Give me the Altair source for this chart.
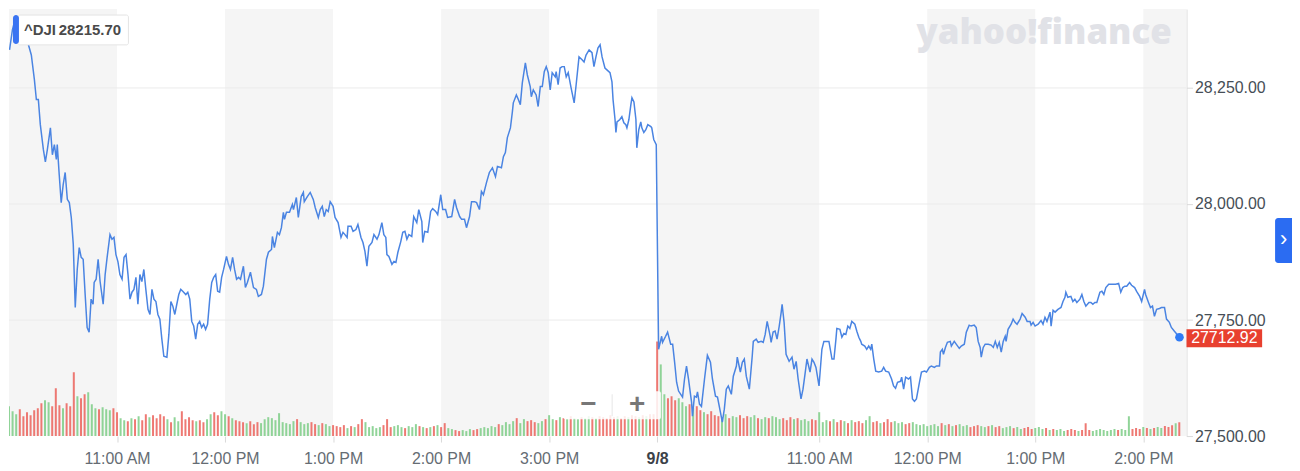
import bisect
import altair as alt
import pandas as pd

# ---------------- data ----------------
DAY2_OFFSET = 360  # 9:30 on 9/8 sits right after 4:00 PM of the first session (minutes)

# first session: (minutes after 10:00 AM, price)
day1_ticks = [
    (0.3, 28332), (1.9, 28375), (3.6, 28401), (6.9, 28392), (9.7, 28364), (10.8, 28343), (12.4, 28321),
    (14.1, 28268), (15.2, 28225), (16.3, 28225), (17.4, 28171), (19.1, 28117), (20.2, 28091), (21.3, 28117),
    (23.0, 28164), (24.1, 28106), (25.2, 28128), (26.3, 28096), (26.8, 28128), (27.9, 28063), (29.0, 28003),
    (30.1, 28042), (31.2, 28068), (32.4, 28010), (33.5, 28003), (34.6, 27971), (35.7, 27913), (36.8, 27777),
    (37.9, 27859), (39.0, 27906), (40.1, 27885), (41.2, 27881), (42.3, 27805), (43.4, 27734), (44.5, 27724),
    (45.6, 27795), (46.7, 27784), (47.3, 27831), (48.4, 27838), (49.5, 27881), (50.6, 27833), (52.3, 27784),
    (53.4, 27848), (54.5, 27885), (56.1, 27934), (57.2, 27924), (58.3, 27928), (59.4, 27891), (60.5, 27876),
    (61.6, 27848), (62.8, 27838), (63.9, 27885), (65.0, 27891), (66.1, 27848), (67.2, 27795), (68.3, 27810),
    (69.4, 27816), (70.5, 27842), (71.6, 27784), (72.7, 27848), (73.8, 27833), (74.9, 27859), (76.0, 27816),
    (77.2, 27773), (78.3, 27762), (79.4, 27816), (80.5, 27795), (81.6, 27790), (82.7, 27762), (83.8, 27752),
    (84.9, 27709), (86.0, 27672), (87.7, 27670), (88.8, 27719), (89.9, 27790), (91.0, 27780), (92.1, 27762),
    (93.2, 27784), (94.3, 27805), (95.4, 27816), (96.5, 27812), (98.2, 27805), (99.3, 27810), (100.4, 27795),
    (101.5, 27747), (102.6, 27737), (103.7, 27709), (104.8, 27741), (105.9, 27747), (107.0, 27734),
    (108.1, 27741), (109.2, 27730), (110.3, 27741), (111.5, 27795), (112.6, 27831), (113.7, 27842),
    (114.8, 27848), (115.9, 27812), (117.0, 27810), (118.1, 27842), (119.2, 27859), (120.8, 27887),
    (121.9, 27870), (123.0, 27859), (124.2, 27885), (125.3, 27859), (126.4, 27838), (127.5, 27842),
    (128.6, 27838), (130.2, 27866), (131.3, 27820), (132.4, 27831), (134.1, 27853), (135.8, 27820),
    (137.4, 27816), (138.5, 27801), (140.2, 27805), (141.3, 27823), (143.0, 27881), (144.1, 27896),
    (145.8, 27902), (146.3, 27930), (147.4, 27906), (149.1, 27939), (150.2, 27934), (151.3, 27949),
    (152.4, 27982), (153.0, 27967), (154.1, 27982), (155.8, 27982), (157.4, 27999), (158.0, 27988),
    (159.6, 28014), (160.7, 27971), (162.3, 28016), (163.5, 28025), (164.0, 28005), (165.7, 28016),
    (167.3, 28025), (169.0, 28010), (170.1, 27992), (171.8, 27971), (172.9, 27988), (174.0, 27995),
    (175.1, 27973), (176.2, 27988), (177.3, 27984), (178.4, 28005), (180.0, 27995), (181.1, 27971),
    (182.8, 27960), (184.4, 27928), (185.5, 27939), (186.6, 27934), (187.8, 27928), (188.3, 27952),
    (190.0, 27952), (191.1, 27941), (192.7, 27945), (193.8, 27956), (195.5, 27928), (196.6, 27917),
    (197.7, 27898), (198.8, 27866), (199.9, 27909), (201.6, 27917), (202.7, 27934), (204.4, 27924),
    (205.5, 27934), (207.1, 27960), (208.2, 27934), (209.3, 27928), (209.9, 27891), (211.0, 27887),
    (212.7, 27870), (213.8, 27876), (214.9, 27874), (216.0, 27896), (217.6, 27919), (218.7, 27939),
    (219.9, 27941), (221.0, 27924), (222.1, 27934), (223.7, 27930), (224.8, 27973), (226.5, 27960),
    (227.6, 27988), (229.3, 27962), (229.8, 27917), (230.9, 27941), (232.6, 27939), (234.2, 27984),
    (235.3, 27990), (237.0, 27984), (238.1, 27977), (239.8, 28020), (240.9, 27988), (242.5, 27988),
    (243.6, 27971), (245.9, 27973), (247.5, 28010), (248.6, 27992), (250.3, 27973), (251.4, 27967),
    (253.0, 27967), (254.1, 27949), (255.8, 27973), (256.9, 28005), (258.6, 28005), (259.7, 28003),
    (261.3, 27988), (262.4, 28027), (263.5, 28020), (265.2, 28046), (266.8, 28068), (268.5, 28078),
    (270.2, 28059), (271.3, 28081), (273.5, 28078), (274.6, 28102), (275.7, 28111), (276.8, 28143),
    (278.5, 28164), (279.6, 28199), (280.1, 28218), (281.8, 28235), (282.9, 28225), (284.0, 28214),
    (285.1, 28261), (286.8, 28304), (287.9, 28278), (289.5, 28253), (290.1, 28231), (291.2, 28246),
    (292.8, 28235), (293.9, 28210), (295.1, 28253), (296.2, 28253), (297.3, 28285), (298.4, 28296),
    (299.5, 28283), (300.6, 28246), (301.7, 28283), (303.4, 28274), (303.9, 28285), (305.0, 28257),
    (306.1, 28293), (307.2, 28296), (308.4, 28296), (309.5, 28274), (310.6, 28283), (312.2, 28250),
    (313.9, 28218), (315.0, 28257), (316.6, 28317), (318.3, 28311), (319.4, 28306), (320.5, 28321),
    (322.2, 28332), (323.8, 28326), (324.9, 28296), (326.0, 28317), (327.1, 28336), (328.3, 28343),
    (329.4, 28317), (331.0, 28293), (332.1, 28289), (333.8, 28283), (334.9, 28263), (335.5, 28225),
    (336.6, 28182), (337.1, 28154), (337.7, 28177), (339.3, 28182), (340.4, 28188), (341.5, 28175),
    (342.6, 28171), (343.2, 28164), (344.3, 28182), (345.4, 28214), (346.0, 28229), (347.1, 28220),
    (348.2, 28182), (348.7, 28121), (349.8, 28160), (350.9, 28177), (351.5, 28164), (352.6, 28154),
    (353.7, 28160), (354.8, 28171), (356.5, 28167), (357.0, 28164), (358.1, 28139), (359.5, 28128),
]

# second session (9/8): (minutes after 9:30 AM, price)
day2_ticks = [
    (0.8, 27687), (2.5, 27715), (3.0, 27702), (4.7, 27715), (5.8, 27724), (7.5, 27698), (8.6, 27698),
    (9.7, 27659), (10.8, 27616), (11.9, 27597), (14.1, 27584), (15.2, 27623), (16.3, 27651), (17.4, 27623),
    (19.1, 27573), (19.6, 27543), (20.7, 27586), (21.8, 27584), (22.4, 27595), (23.5, 27569), (24.6, 27564),
    (26.3, 27623), (27.9, 27674), (29.6, 27659), (30.7, 27623), (32.4, 27586), (33.5, 27584), (35.1, 27552),
    (36.2, 27530), (37.3, 27558), (38.4, 27601), (39.5, 27608), (41.2, 27590), (42.3, 27629), (44.0, 27651),
    (44.5, 27670), (46.2, 27638), (47.3, 27659), (48.4, 27666), (49.5, 27629), (51.2, 27601), (52.8, 27672),
    (53.4, 27704), (55.0, 27709), (56.1, 27702), (57.8, 27704), (58.9, 27702), (60.0, 27719), (61.1, 27747),
    (62.8, 27715), (63.3, 27702), (64.4, 27724), (65.5, 27726), (66.6, 27709), (67.8, 27737), (68.9, 27767),
    (69.4, 27784), (70.5, 27745), (71.6, 27676), (73.3, 27661), (74.9, 27670), (76.0, 27644), (77.2, 27661),
    (78.3, 27623), (79.9, 27580), (81.0, 27601), (82.1, 27633), (83.2, 27666), (84.9, 27638), (86.0, 27666),
    (87.1, 27659), (88.2, 27648), (89.9, 27608), (91.5, 27687), (92.6, 27704), (94.3, 27704), (95.4, 27704),
    (97.1, 27666), (98.2, 27666), (99.3, 27709), (99.8, 27732), (101.5, 27730), (102.6, 27713),
    (103.7, 27721), (104.8, 27719), (105.9, 27737), (107.0, 27732), (108.1, 27747), (109.8, 27741),
    (110.9, 27726), (112.0, 27713), (113.1, 27704), (113.6, 27698), (115.3, 27694), (116.4, 27687),
    (117.5, 27694), (118.6, 27687), (119.2, 27698), (120.3, 27666), (121.4, 27640), (123.0, 27638),
    (124.7, 27640), (125.8, 27648), (126.9, 27640), (128.6, 27638), (130.2, 27623), (131.3, 27608),
    (132.4, 27603), (133.5, 27616), (135.2, 27618), (135.8, 27627), (136.9, 27601), (138.0, 27627),
    (139.6, 27623), (140.7, 27627), (141.8, 27580), (142.9, 27575), (144.0, 27580), (145.7, 27616),
    (146.8, 27638), (148.5, 27640), (149.6, 27638), (151.2, 27648), (152.3, 27651), (154.0, 27648),
    (155.1, 27651), (156.8, 27651), (157.3, 27681), (158.4, 27687), (159.0, 27676), (160.1, 27691),
    (161.2, 27702), (162.8, 27704), (163.4, 27694), (165.0, 27704), (166.1, 27698), (167.8, 27689),
    (168.9, 27694), (170.6, 27698), (171.7, 27724), (173.3, 27739), (174.4, 27737), (176.1, 27739),
    (177.2, 27734), (178.3, 27704), (179.4, 27691), (180.0, 27670), (181.1, 27691), (182.2, 27698),
    (183.9, 27698), (185.5, 27696), (186.7, 27691), (187.8, 27704), (188.9, 27691), (190.0, 27702),
    (191.1, 27681), (192.2, 27704), (193.3, 27715), (193.8, 27704), (194.9, 27730), (196.6, 27741),
    (197.7, 27752), (198.8, 27745), (199.9, 27741), (201.6, 27752), (202.7, 27764), (204.4, 27756),
    (205.5, 27747), (207.1, 27747), (207.7, 27739), (208.8, 27745), (209.9, 27737), (211.6, 27741),
    (213.2, 27749), (214.3, 27741), (215.4, 27756), (216.5, 27747), (218.2, 27767), (218.8, 27737),
    (219.9, 27771), (221.0, 27767), (222.6, 27773), (224.3, 27777), (225.4, 27790), (226.5, 27799),
    (227.0, 27810), (228.1, 27799), (229.8, 27801), (230.9, 27790), (232.0, 27795), (233.1, 27788),
    (234.8, 27795), (235.9, 27805), (237.0, 27790), (238.1, 27780), (239.8, 27788), (240.9, 27788),
    (242.0, 27784), (243.1, 27788), (244.2, 27788), (245.9, 27810), (247.0, 27812), (248.1, 27805),
    (249.2, 27820), (250.8, 27827), (251.9, 27827), (253.6, 27827), (254.7, 27827), (256.3, 27829),
    (257.5, 27810), (258.6, 27820), (259.7, 27823), (260.8, 27823), (262.4, 27831), (263.5, 27825),
    (265.2, 27820), (266.3, 27812), (268.0, 27801), (269.1, 27790), (270.7, 27816), (271.3, 27805),
    (272.9, 27788), (274.0, 27777), (275.1, 27780), (276.2, 27758), (277.4, 27773), (279.0, 27775),
    (280.1, 27777), (281.8, 27777), (282.9, 27752), (284.5, 27745), (285.6, 27734), (287.3, 27726),
    (290.1, 27712.92),
]

# volume per 2-minute bar (thousand shares); first session from 10:00, second from 9:30
day1_volume = [
    300, 250, 220, 270, 200, 240, 210, 260, 280, 330,
    360, 340, 300, 480, 310, 280, 330, 300, 640, 400,
    380, 420, 440, 320, 280, 270, 290, 270, 260, 280,
    240, 180, 160, 150, 180, 170, 200, 160, 220, 190,
    210, 180, 220, 200, 170, 140, 190, 150, 250, 170,
    190, 160, 150, 160, 140, 170, 220, 240, 210, 250,
    220, 200, 180, 160, 150, 140, 130, 150, 120, 140,
    130, 170, 190, 180, 160, 230, 140, 130, 120, 150,
    170, 140, 120, 130, 140, 120, 110, 130, 120, 100,
    110, 100, 90, 110, 80, 100, 90, 120, 170, 140,
    90, 100, 80, 90, 110, 170, 90, 100, 110, 90,
    80, 100, 90, 120, 100, 90, 80, 90, 100, 110,
    90, 130, 80, 70, 60, 50, 60, 50, 70, 60,
    70, 80, 90, 80, 100, 90, 120, 110, 140, 120,
    150, 180, 130, 170, 150, 160, 140, 130, 150, 170,
    210, 170, 160, 190, 180, 170, 200, 180, 170, 190,
    180, 200, 190, 180, 200, 190, 180, 210, 190, 200,
    180, 200, 190, 210, 200, 190, 210, 200, 220, 220,
]
day2_volume = [
    950, 720, 420, 380, 400, 360, 380, 340, 300, 320,
    280, 300, 260, 240, 220, 250, 210, 200, 190, 220,
    180, 200, 190, 210, 180, 200, 190, 210, 180, 170,
    190, 180, 200, 190, 170, 180, 160, 190, 170, 180,
    160, 170, 150, 170, 160, 240, 140, 160, 150, 170,
    140, 160, 150, 130, 160, 140, 150, 130, 160, 200,
    140, 150, 130, 140, 170, 140, 150, 130, 140, 120,
    130, 140, 120, 110, 120, 100, 110, 120, 100, 130,
    110, 120, 100, 110, 120, 100, 110, 90, 100, 110,
    100, 90, 100, 110, 90, 100, 80, 90, 100, 80,
    90, 70, 80, 90, 70, 80, 90, 70, 80, 60,
    70, 60, 70, 50, 60, 70, 60, 50, 60, 130,
    60, 50, 60, 70, 60, 50, 60, 70, 60, 70,
    60, 200, 70, 80, 70, 90, 80, 70, 80, 90,
    80, 100, 90, 110, 130, 140,
]

tick_minutes = [60, 120, 180, 240, 300, 360, 450, 510, 570, 630]
tick_labels = ["11:00 AM", "12:00 PM", "1:00 PM", "2:00 PM", "3:00 PM", "9/8",
               "11:00 AM", "12:00 PM", "1:00 PM", "2:00 PM"]
price_ticks = [27500, 27750, 28000, 28250]
grid_prices = [27750, 28000, 28250]
band_starts = [0, 120, 240, 360, 510, 630]
band_ends = [60, 180, 300, 450, 570, 654]
x_domain = [0, 654]
price_domain = [27500, 28420]
volume_domain = [0, 4290]
tag_symbol = "^DJI"
tag_value = "28215.70"
watermark = "yahoo!finance"

# ---------------- tables ----------------
t_all = [m for m, _ in day1_ticks] + [DAY2_OFFSET + m for m, _ in day2_ticks]
p_all = [p for _, p in day1_ticks] + [p for _, p in day2_ticks]
price_df = pd.DataFrame({"t": t_all, "p": p_all})

vol_t = [2 * i for i in range(len(day1_volume))] + [DAY2_OFFSET + 2 * j for j in range(len(day2_volume))]
vol_v = day1_volume + day2_volume


def price_at(t):
    k = bisect.bisect_right(t_all, t) - 1
    return p_all[max(k, 0)]


vol_dir = ["up" if price_at(t + 2) >= price_at(t) else "down" for t in vol_t]
vol_df = pd.DataFrame({"t": vol_t, "v": vol_v, "d": vol_dir})

band_df = pd.DataFrame({"s": band_starts, "e": band_ends})
grid_df = pd.DataFrame({"v": grid_prices})
last_df = pd.DataFrame({"t": [t_all[-1]], "p": [p_all[-1]], "label": [f"{p_all[-1]:.2f}"]})
one = pd.DataFrame({"k": [0]})

label_expr = " : ".join(f"datum.value == {v} ? '{s}'" for v, s in zip(tick_minutes, tick_labels)) + " : ''"

# ---------------- chart ----------------
W, H = 1183, 429
FONT = "Liberation Sans"
xs = alt.Scale(domain=x_domain, nice=False, zero=False, padding=0)
ys = alt.Scale(domain=price_domain, nice=False, zero=False)

x_axis = alt.Axis(
    values=tick_minutes, labelExpr=label_expr, grid=False, domain=False,
    tickSize=6, tickColor="#d9d9d9", labelPadding=9, labelFontSize=16, labelFont=FONT,
    labelColor={"condition": {"test": "datum.value == 360", "value": "#3c4248"}, "value": "#656c73"},
    labelFontWeight={"condition": {"test": "datum.value == 360", "value": "bold"}, "value": "normal"},
    labelOverlap=False, labelFlush=False, title=None,
)
y_axis = alt.Axis(
    orient="right", values=price_ticks, format=",.2f", grid=False, domain=True,
    domainColor="#dadada", tickColor="#dadada", tickSize=6, labelPadding=2, labelFontSize=16,
    labelFont=FONT, labelColor="#464e56", title=None, labelOverlap=False, labelFlush=False,
)

bands = alt.Chart(band_df).mark_rect(color="#f5f5f5").encode(
    x=alt.X("s:Q", scale=xs, axis=x_axis), x2="e:Q"
)
grid = alt.Chart(grid_df).mark_rule(color="#ebebeb", strokeWidth=1).encode(
    y=alt.Y("v:Q", scale=ys, axis=y_axis)
)
volume = alt.Chart(vol_df).mark_bar(size=2, clip=True, opacity=0.9).encode(
    x=alt.X("t:Q", scale=xs),
    y=alt.Y("v:Q", scale=alt.Scale(domain=volume_domain, nice=False), axis=None),
    color=alt.Color("d:N", scale=alt.Scale(domain=["up", "down"], range=["#84cf8d", "#ec6a64"]), legend=None),
)
line = alt.Chart(price_df).mark_line(color="#4a84e2", strokeWidth=1.5, clip=True).encode(
    x=alt.X("t:Q", scale=xs), y=alt.Y("p:Q", scale=ys, axis=None)
)
dot = alt.Chart(last_df).mark_circle(size=75, color="#2f7bf5", opacity=1).encode(
    x=alt.X("t:Q", scale=xs), y=alt.Y("p:Q", scale=ys, axis=None)
)
BADGE = "M-1,-0.24L1,-0.24L1,0.24L-1,0.24Z"
badge = alt.Chart(last_df).mark_point(shape=BADGE, size=76 * 76, filled=True, color="#e8402f",
                                      opacity=1, yOffset=1).encode(
    x=alt.value(1221), y=alt.Y("p:Q", scale=ys, axis=None)
)
badge_text = alt.Chart(last_df).mark_text(color="white", fontSize=16, font=FONT, align="center",
                                          baseline="middle", yOffset=1).encode(
    x=alt.value(1221), y=alt.Y("p:Q", scale=ys, axis=None), text="label:N"
)

wm = alt.Chart(one).mark_text(text=watermark, font="Open Sans", fontSize=35, fontWeight=800,
                              color="#e1e2e7", align="center", baseline="middle").encode(
    x=alt.value(1040), y=alt.value(24)
)

tag_box = alt.Chart(one).mark_rect(color="white", stroke="#e4e4e4", strokeWidth=1, cornerRadius=2).encode(
    x=alt.value(9), x2=alt.value(120), y=alt.value(6), y2=alt.value(36)
)
tag_bar = alt.Chart(one).mark_rect(color="#3a74f2", cornerRadius=3).encode(
    x=alt.value(4), x2=alt.value(10), y=alt.value(6), y2=alt.value(35)
)
tag_sym = alt.Chart(one).mark_text(text=tag_symbol, font=FONT, fontSize=15, fontWeight="bold",
                                   color="#4a4a4a", align="left", baseline="middle").encode(
    x=alt.value(15), y=alt.value(21)
)
tag_val = alt.Chart(one).mark_text(text=tag_value, font=FONT, fontSize=15, fontWeight="bold",
                                   color="#4a4a4a", align="left", baseline="middle").encode(
    x=alt.value(50), y=alt.value(21)
)

zoom_box = alt.Chart(one).mark_rect(color="white", opacity=0.85, cornerRadius=2).encode(
    x=alt.value(557), x2=alt.value(655), y=alt.value(384), y2=alt.value(412)
)
zoom_div = alt.Chart(one).mark_rule(color="#e6e6e6").encode(
    x=alt.value(606), y=alt.value(387), y2=alt.value(409)
)
zoom_minus = alt.Chart(one).mark_text(text="\u2212", font=FONT, fontSize=28, fontWeight="bold",
                                      color="#777777", align="center", baseline="middle").encode(
    x=alt.value(582), y=alt.value(398)
)
zoom_plus = alt.Chart(one).mark_text(text="+", font=FONT, fontSize=28, fontWeight="bold",
                                     color="#777777", align="center", baseline="middle").encode(
    x=alt.value(631), y=alt.value(398)
)

btn = alt.Chart(one).mark_rect(color="#2b6cf2", cornerRadiusTopLeft=3, cornerRadiusBottomLeft=3).encode(
    x=alt.value(1272), x2=alt.value(1289), y=alt.value(210), y2=alt.value(255)
)
btn_txt = alt.Chart(one).mark_text(text="\u203a", font=FONT, fontSize=22, color="white",
                                   align="center", baseline="middle").encode(
    x=alt.value(1280.5), y=alt.value(231)
)

chart = (
    alt.layer(bands, grid, volume, line, dot, badge, badge_text, wm,
              tag_box, tag_bar, tag_sym, tag_val,
              zoom_box, zoom_div, zoom_minus, zoom_plus, btn, btn_txt)
    .resolve_scale(y="independent")
    .properties(width=W, height=H, padding={"left": 0, "top": 0, "right": 0, "bottom": 0})
    .configure_view(stroke=None)
)

chart.save("out.html", embed_options={"renderer": "svg", "actions": False})
